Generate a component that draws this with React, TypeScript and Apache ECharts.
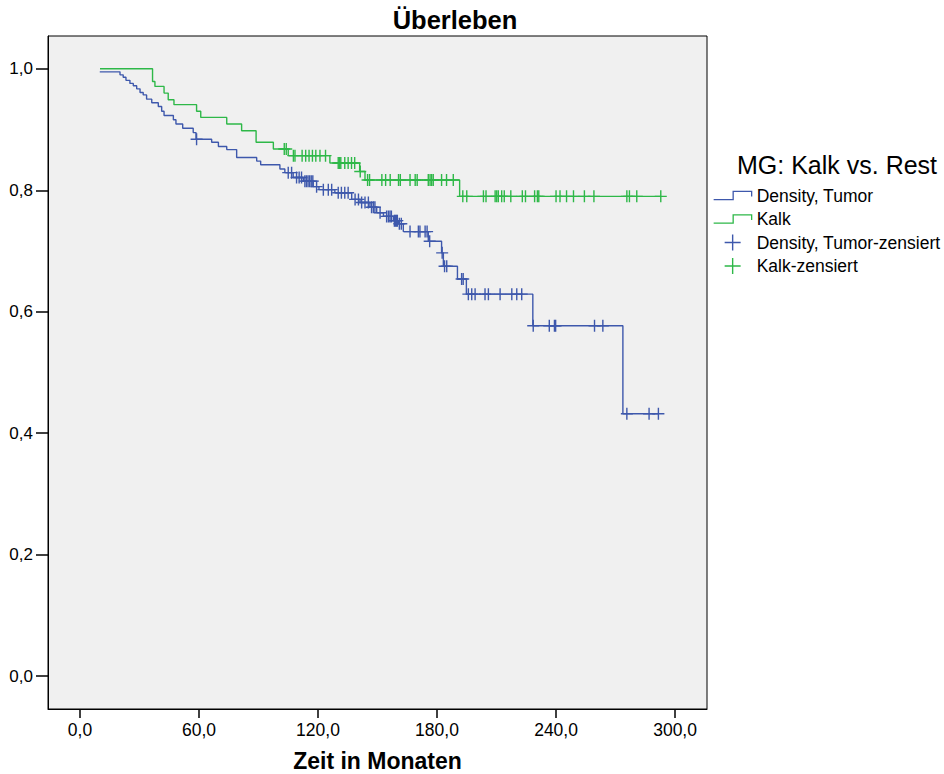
import React, { useEffect, useRef } from 'react';
import * as echarts from 'echarts';

const BLUE = '#3E58AC';
const GREEN = '#2EB848';
const FONT = '"Liberation Sans", Arial, sans-serif';

const titleText = 'Überleben';
const xAxisName = 'Zeit in Monaten';
const legendTitle = 'MG: Kalk vs. Rest';
const seriesNames = ['Density, Tumor', 'Kalk', 'Density, Tumor-zensiert', 'Kalk-zensiert'];

const xTicks = [0, 60, 120, 180, 240, 300];
const yTicks = [0, 0.2, 0.4, 0.6, 0.8, 1.0];

// Density, Tumor: step times and survival after each step
const densityTime = [10, 20.2, 21.8, 23.2, 25.2, 26.9, 28.6, 30.3, 31.9, 33.6, 36.2, 39.5, 41.2, 42.4, 47.1, 48.4, 51.8, 57.1, 58.5, 66.4, 69.8, 74.0, 79.0, 89.1, 91.1, 100.8, 103.3, 107.5, 112.6, 117.6, 120.5, 128.5, 137.0, 141.2, 146.2, 149.6, 153.0, 158.0, 160.5, 163.0, 175.6, 182.3, 183.2, 190.3, 194.8, 228.3, 273.7];
const densitySurv = [0.995, 0.990, 0.986, 0.981, 0.976, 0.972, 0.967, 0.961, 0.957, 0.950, 0.944, 0.938, 0.930, 0.923, 0.916, 0.909, 0.902, 0.895, 0.884, 0.879, 0.872, 0.867, 0.854, 0.848, 0.842, 0.835, 0.829, 0.821, 0.815, 0.806, 0.801, 0.796, 0.785, 0.780, 0.772, 0.763, 0.757, 0.750, 0.745, 0.732, 0.716, 0.697, 0.675, 0.654, 0.629, 0.577, 0.432];
const densityEnd = 291.6;
const densityCensor = [58.8, 105, 106.7, 109.2, 110.5, 111.7, 113.4, 114.2, 115.0, 115.8, 116.6, 117.4, 119.3, 122.7, 125.2, 126.9, 130.2, 131.8, 133.5, 135.2, 138.7, 140.4, 142.0, 143.7, 145.4, 147.0, 147.9, 148.7, 151.3, 154.6, 155.5, 156.3, 157.0, 158.5, 159.0, 159.6, 160.0, 161.0, 162.0, 166.4, 170.6, 171.4, 174.0, 175.0, 176.3, 182.6, 183.8, 184.9, 192.4, 193.2, 195.8, 197.5, 199.2, 204.2, 205.9, 211.8, 217.7, 220.2, 222.7, 228.5, 236.6, 239.2, 239.8, 259.4, 263.6, 275.7, 286.9, 291.6];

// Kalk
const kalkTime = [10.1, 36.6, 37.8, 42.4, 44.5, 47.4, 58.8, 60.9, 74.0, 81.5, 88.8, 97.5, 105.0, 126.0, 141.0, 143.7, 191.4];
const kalkSurv = [1.0, 0.979, 0.971, 0.960, 0.949, 0.941, 0.930, 0.920, 0.909, 0.898, 0.879, 0.868, 0.857, 0.845, 0.831, 0.817, 0.790];
const kalkEnd = 292.8;
const kalkCensor = [103.0, 104.0, 107.6, 108.4, 112.0, 113.8, 115.5, 117.2, 118.9, 121.0, 123.8, 130.2, 130.8, 131.5, 133.5, 135.2, 136.9, 138.5, 141.3, 145.0, 146.0, 152.2, 154.1, 156.4, 160.6, 161.5, 166.4, 169.0, 170.0, 175.6, 176.5, 177.3, 178.1, 182.3, 184.8, 188.2, 193.0, 195.0, 203.4, 204.7, 209.3, 210.1, 210.9, 212.6, 213.9, 217.2, 223.0, 224.6, 229.2, 230.6, 231.3, 240.0, 242.0, 245.3, 248.8, 254.3, 259.1, 275.7, 277.0, 280.7, 292.8];

function stepData(times: number[], surv: number[], end: number) {
  const d = times.map((t, i) => [t, surv[i]]);
  d.push([end, surv[surv.length - 1]]);
  return d;
}
function survAt(times: number[], surv: number[], t: number) {
  let s = surv[0];
  for (let i = 0; i < times.length; i++) if (times[i] <= t) s = surv[i];
  return s;
}
function censorData(times: number[], surv: number[], cens: number[]) {
  return cens.map((t) => [t, survAt(times, surv, t)]);
}

const fmt = (v: number) => v.toFixed(1).replace('.', ',');

const PLUS = 'path://M5.3,0h1.4v12h-1.4z M0,5.3h12v1.4h-12z';
const PLUS_LEGEND = 'path://M7.3,0h1.4v16h-1.4z M0,7.3h16v1.4h-16z';
const STEP_ICON = 'path://M0,8L19,8L19,0L37,0L37,5';

export default function App() {
  const ref = useRef<HTMLDivElement>(null);
  useEffect(() => {
    document.body.style.margin = '0';
    const chart = echarts.init(ref.current!, null, { renderer: 'svg' });
    chart.setOption({
      animation: false,
      backgroundColor: '#ffffff',
      textStyle: { fontFamily: FONT },
      grid: {
        left: 48, top: 36, right: 237, bottom: 65,
        outerBoundsMode: 'none', containLabel: false,
        show: true, backgroundColor: '#f0f0f0', borderColor: '#000', borderWidth: 1,
      },
      graphic: [
        { type: 'text', x: 455, y: 20, style: { text: titleText, font: `bold 25.5px ${FONT}`, fill: '#000', align: 'center', verticalAlign: 'middle' } },
        { type: 'text', x: 737, y: 165, style: { text: legendTitle, font: `25px ${FONT}`, fill: '#000', align: 'left', verticalAlign: 'middle' } },
      ],
      legend: {
        orient: 'vertical', left: 708, top: 181.5, itemWidth: 38, itemHeight: 16, itemGap: 5.5,
        selectedMode: false,
        textStyle: { fontSize: 17.5, color: '#000', fontFamily: FONT },
        data: [
          { name: seriesNames[0], icon: STEP_ICON, itemStyle: { color: 'transparent', borderColor: BLUE, borderWidth: 1.3 } },
          { name: seriesNames[1], icon: STEP_ICON, itemStyle: { color: 'transparent', borderColor: GREEN, borderWidth: 1.3 } },
          { name: seriesNames[2], icon: PLUS_LEGEND, itemStyle: { color: BLUE, borderWidth: 0 } },
          { name: seriesNames[3], icon: PLUS_LEGEND, itemStyle: { color: GREEN, borderWidth: 0 } },
        ],
      },
      xAxis: {
        type: 'value', min: -16.1, max: 316.1,
        name: xAxisName, nameLocation: 'middle', nameGap: 40,
        nameTextStyle: { fontSize: 23, lineHeight: 24, fontWeight: 'bold', color: '#000', fontFamily: FONT },
        axisLine: { show: true, onZero: false, lineStyle: { color: '#000', width: 1 } },
        axisTick: { show: true, customValues: xTicks, length: 9, lineStyle: { color: '#000', width: 1.5 } },
        axisLabel: { customValues: xTicks, formatter: fmt, fontSize: 17.5, color: '#000', margin: 12, fontFamily: FONT },
        splitLine: { show: false },
      },
      yAxis: {
        type: 'value', min: -0.054, max: 1.054,
        axisLine: { show: true, onZero: false, lineStyle: { color: '#000', width: 1 } },
        axisTick: { show: true, customValues: yTicks, length: 12, lineStyle: { color: '#000', width: 1.5 } },
        axisLabel: { customValues: yTicks, formatter: fmt, fontSize: 17, color: '#000', margin: 15, fontFamily: FONT },
        splitLine: { show: false },
      },
      series: [
        {
          name: seriesNames[0], type: 'line', step: 'end', showSymbol: false, symbol: 'none',
          data: stepData(densityTime, densitySurv, densityEnd),
          lineStyle: { color: BLUE, width: 1.4 }, itemStyle: { color: BLUE }, z: 2,
        },
        {
          name: seriesNames[1], type: 'line', step: 'end', showSymbol: false, symbol: 'none',
          data: stepData(kalkTime, kalkSurv, kalkEnd),
          lineStyle: { color: GREEN, width: 1.4 }, itemStyle: { color: GREEN }, z: 2,
        },
        {
          name: seriesNames[2], type: 'scatter', symbol: PLUS, symbolSize: 12,
          data: censorData(densityTime, densitySurv, densityCensor),
          itemStyle: { color: BLUE, opacity: 1 }, z: 3,
        },
        {
          name: seriesNames[3], type: 'scatter', symbol: PLUS, symbolSize: 12,
          data: censorData(kalkTime, kalkSurv, kalkCensor),
          itemStyle: { color: GREEN, opacity: 1 }, z: 3,
        },
      ],
    });
    return () => chart.dispose();
  }, []);
  return <div ref={ref} style={{ width: 944, height: 774 }} />;
}
